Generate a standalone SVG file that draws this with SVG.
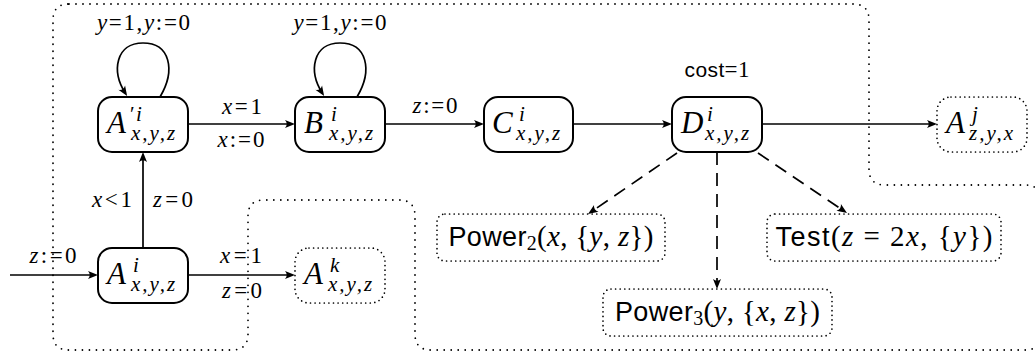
<svg xmlns="http://www.w3.org/2000/svg" width="1035" height="356" viewBox="0 0 1035 356">
<defs>
<style>
.node rect { fill: #fff; stroke: #000; stroke-width: 2; }
.dnode rect { fill: #fff; stroke: #000; stroke-width: 1.7; stroke-dasharray: 0 4.6; stroke-linecap: round; }
.region { fill: none; stroke: #000; stroke-width: 1.8; stroke-dasharray: 0 7; stroke-linecap: round; }
.m { font-family: "Liberation Serif", serif; font-style: italic; font-size: 31px; fill: #000; }
.s { font-size: 21px; letter-spacing: 2px; }
.sup { font-size: 21px; }
.lab { font-family: "Liberation Serif", serif; font-size: 23px; text-anchor: middle; fill: #000; }
.bl { font-family: "Liberation Serif", serif; font-size: 29px; text-anchor: middle; fill: #000; }
.it { font-style: italic; }
.sans { font-family: "Liberation Sans", sans-serif; }
.edge { fill: none; stroke: #000; stroke-width: 1.7; }
.dash { stroke-dasharray: 13 8; }
</style>
<marker id="ah" viewBox="-8 -5 12 10" refX="0" refY="0" markerWidth="12" markerHeight="10" markerUnits="userSpaceOnUse" orient="auto">
<path d="M3,0 L-7,-4 Q-3.5,0 -7,4 Z" fill="#000"/>
</marker>
</defs>

<path id="region" class="region" d="M69,4 H853 Q869,4 869,20 V169 Q869,185 885,185 H1025 Q1041,185 1041,201 V334 Q1041,350 1025,350 H431 Q415,350 415,334 V216 Q415,200 399,200 H264 Q248,200 248,216 V334 Q248,350 232,350 H69 Q53,350 53,334 V20 Q53,4 69,4 Z"/>

<g id="connectors">
<path class="edge" d="M160,97 C176,70 170,43 143,43 C116,43 111,71 125.5,93.5" marker-end="url(#ah)"/>
<path class="edge" d="M357,97 C373,70 367,43 340,43 C313,43 308,71 322.5,93.5" marker-end="url(#ah)"/>
<line class="edge" x1="188" y1="124" x2="292" y2="124" marker-end="url(#ah)"/>
<line class="edge" x1="385" y1="124" x2="481" y2="124" marker-end="url(#ah)"/>
<line class="edge" x1="573" y1="124" x2="669" y2="124" marker-end="url(#ah)"/>
<line class="edge" x1="762" y1="124" x2="934" y2="124" marker-end="url(#ah)"/>
<line class="edge" x1="143" y1="248" x2="143" y2="155" marker-end="url(#ah)"/>
<line class="edge" x1="10" y1="275" x2="95" y2="275" marker-end="url(#ah)"/>
<line class="edge" x1="188" y1="275" x2="292" y2="275" marker-end="url(#ah)"/>
<line class="edge dash" x1="677" y1="153" x2="590.5" y2="212.3" marker-end="url(#ah)"/>
<line class="edge dash" x1="717" y1="152" x2="717" y2="286" marker-end="url(#ah)"/>
<line class="edge dash" x1="758" y1="153" x2="844.5" y2="211.3" marker-end="url(#ah)"/>

<text class="lab" x="143.5" y="30" textLength="93" lengthAdjust="spacing"><tspan class="it">y</tspan>=1,<tspan class="it">y</tspan>:=0</text>
<text class="lab" x="340" y="30" textLength="93" lengthAdjust="spacing"><tspan class="it">y</tspan>=1,<tspan class="it">y</tspan>:=0</text>
<text class="lab" x="242" y="114" textLength="40" lengthAdjust="spacing"><tspan class="it">x</tspan>=1</text>
<text class="lab" x="241" y="147" textLength="47" lengthAdjust="spacing"><tspan class="it">x</tspan>:=0</text>
<text class="lab" x="435" y="113" textLength="45" lengthAdjust="spacing"><tspan class="it">z</tspan>:=0</text>
<text class="lab" x="717" y="77" textLength="65" lengthAdjust="spacing"><tspan class="sans" font-size="21">cost</tspan>=1</text>
<text class="lab" x="112" y="207" textLength="40" lengthAdjust="spacing"><tspan class="it">x</tspan>&lt;1</text>
<text class="lab" x="173" y="207" textLength="40" lengthAdjust="spacing"><tspan class="it">z</tspan>=0</text>
<text class="lab" x="53" y="263" textLength="47" lengthAdjust="spacing"><tspan class="it">z</tspan>:=0</text>
<text class="lab" x="241" y="263" textLength="42" lengthAdjust="spacing"><tspan class="it">x</tspan>=1</text>
<text class="lab" x="242" y="298" textLength="40" lengthAdjust="spacing"><tspan class="it">z</tspan>=0</text>
</g>

<g id="A1" class="node">
<rect x="98" y="97" width="90" height="55" rx="14"/>
<text class="m"><tspan x="107" y="133">A</tspan><tspan class="sup" x="130" y="121" font-style="normal">′</tspan><tspan class="sup" x="136" y="121">i</tspan><tspan class="s" x="131" y="140">x,y,z</tspan></text>
</g>
<g id="B" class="node">
<rect x="295" y="97" width="90" height="55" rx="14"/>
<text class="m"><tspan x="304" y="133">B</tspan><tspan class="sup" x="331" y="121">i</tspan><tspan class="s" x="329" y="140">x,y,z</tspan></text>
</g>
<g id="C" class="node">
<rect x="484" y="97" width="89" height="55" rx="14"/>
<text class="m"><tspan x="492" y="133">C</tspan><tspan class="sup" x="519" y="121">i</tspan><tspan class="s" x="516" y="140">x,y,z</tspan></text>
</g>
<g id="D" class="node">
<rect x="672" y="97" width="90" height="55" rx="14"/>
<text class="m"><tspan x="681" y="133">D</tspan><tspan class="sup" x="707" y="121">i</tspan><tspan class="s" x="705" y="140">x,y,z</tspan></text>
</g>
<g id="Aj" class="dnode">
<rect x="937" y="97" width="90" height="55" rx="14"/>
<text class="m"><tspan x="946" y="133">A</tspan><tspan class="sup" x="972" y="121">j</tspan><tspan class="s" x="969" y="140">z,y,x</tspan></text>
</g>
<g id="A0" class="node">
<rect x="98" y="248" width="90" height="55" rx="14"/>
<text class="m"><tspan x="107" y="284">A</tspan><tspan class="sup" x="133" y="272">i</tspan><tspan class="s" x="131" y="291">x,y,z</tspan></text>
</g>
<g id="Ak" class="dnode">
<rect x="295" y="248" width="90" height="55" rx="14"/>
<text class="m"><tspan x="304" y="284">A</tspan><tspan class="sup" x="330" y="272">k</tspan><tspan class="s" x="328" y="291">x,y,z</tspan></text>
</g>
<g id="Power2" class="dnode">
<rect x="437" y="214" width="228" height="47" rx="8"/>
<text class="bl" x="551" y="246" textLength="205" lengthAdjust="spacing"><tspan class="sans" font-size="27">Power</tspan><tspan font-size="20" dy="4">2</tspan><tspan dy="-4">(<tspan class="it">x</tspan>, {<tspan class="it">y</tspan>, <tspan class="it">z</tspan>})</tspan></text>
</g>
<g id="Test" class="dnode">
<rect x="767" y="214" width="234" height="47" rx="8"/>
<text class="bl" x="884" y="246" textLength="217" lengthAdjust="spacing"><tspan class="sans" font-size="27">Test</tspan>(<tspan class="it">z</tspan> = 2<tspan class="it">x</tspan>, {<tspan class="it">y</tspan>})</text>
</g>
<g id="Power3" class="dnode">
<rect x="603" y="289" width="229" height="47" rx="8"/>
<text class="bl" x="717.5" y="321" textLength="205" lengthAdjust="spacing"><tspan class="sans" font-size="27">Power</tspan><tspan font-size="20" dy="4">3</tspan><tspan dy="-4">(<tspan class="it">y</tspan>, {<tspan class="it">x</tspan>, <tspan class="it">z</tspan>})</tspan></text>
</g>
</svg>
